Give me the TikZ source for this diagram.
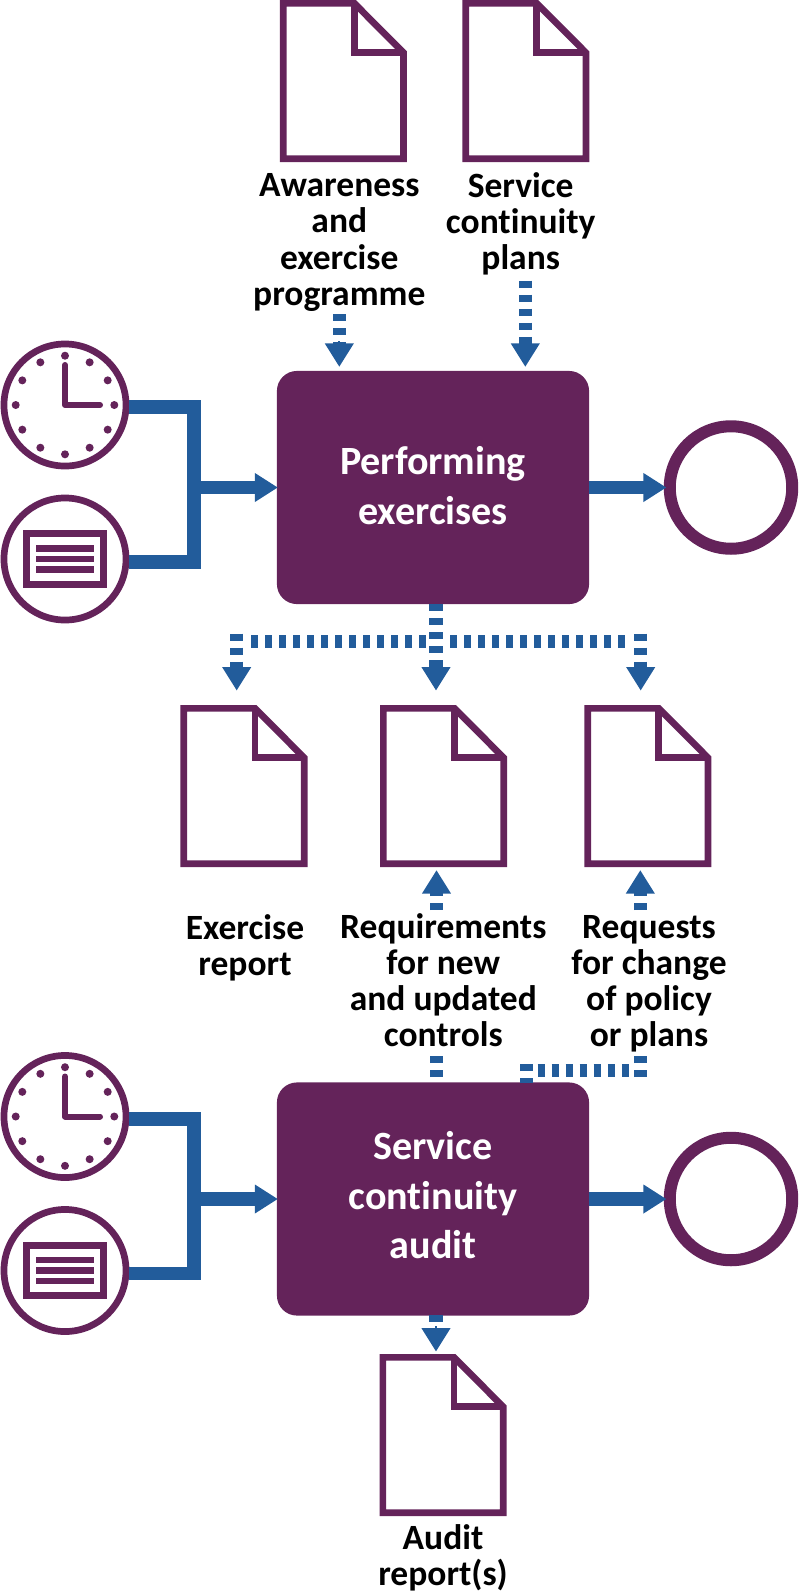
\documentclass[tikz,border=0pt]{standalone}
\usepackage{fontspec}
\usepackage{xcolor}
\setmainfont{Carlito}[Ligatures=NoCommon]
\usetikzlibrary{arrows.meta}

\definecolor{stepPurple}{HTML}{64235A}
\definecolor{flowBlue}{HTML}{225C9B}

\tikzset{
  docshape/.style={inner sep=0pt,outer sep=0pt,minimum width=1.266cm,minimum height=1.62cm},
  docline/.style={draw=stepPurple,line width=0.067cm,line join=miter},
  iconring/.style={circle,draw=stepPurple,fill=white,line width=0.067cm,minimum size=1.22cm,inner sep=0pt},
  endring/.style={circle,draw=stepPurple,fill=white,line width=0.12cm,minimum size=1.224cm,inner sep=0pt},
  stepbox/.style={rectangle,fill=stepPurple,rounded corners=0.2cm,minimum width=3.12cm,minimum height=2.33cm,
    inner sep=0pt,outer sep=0pt,align=center,text=white,font=\bfseries\fontsize{11.4}{14}\selectfont},
  doclabel/.style={inner sep=0pt,align=center,text=black,font=\bfseries\fontsize{10.1}{10.25}\selectfont},
  flowline/.style={draw=flowBlue,line width=0.134cm,line join=miter},
  flowarrow/.style={flowline,-{Triangle[length=0.23cm,width=0.273cm]}},
  dashline/.style={draw=flowBlue,line width=0.135cm,dash pattern=on 0.07cm off 0.07cm},
  dashflow/.style={dashline,-{Rectangle[length=0.02cm,width=0pt]Triangle[length=0.235cm,width=0.273cm]}},
}

% document sheet with folded corner
\newcommand{\docicon}[3]{
  \begin{scope}[shift={(#2,#3)}]
    \node[docshape] (#1) at (0,0) {};
    \draw[docline] (-60.15,-77.65)--(11,-77.65)--(60.15,-28.3)--(60.15,77.65)--(-60.15,77.65)--cycle;
    \draw[docline] (11,-77.65)--(11,-28.3)--(60.15,-28.3);
  \end{scope}
}

% clock face
\newcommand{\clockicon}[3]{
  \begin{scope}[shift={(#2,#3)}]
    \node[iconring] (#1) at (0,0) {};
    \foreach \a in {0,30,...,330} \fill[stepPurple] (\a:49.3) circle (4);
    \draw[stepPurple,line width=0.06cm,line cap=round,line join=round] (0,-40)--(0,0)--(35,0);
  \end{scope}
}

% form with three text lines
\newcommand{\formicon}[3]{
  \begin{scope}[shift={(#2,#3)}]
    \node[iconring] (#1) at (0,0) {};
    \draw[stepPurple,line width=0.067cm] (-38.5,-25.3) rectangle (38.5,25.3);
    \foreach \t in {-10.5,0,10.5} \fill[stepPurple] (-29,\t-3.3) rectangle (29,\t+3.3);
  \end{scope}
}

\begin{document}
\begin{tikzpicture}[x=0.01cm,y=-0.01cm]
\useasboundingbox (0,0) rectangle (799,1596);

% top documents
\docicon{docAware}{343.4}{81}
\docicon{docPlans}{525.8}{81}
\node[doclabel] (labAware) at (339.3,242.5) {Awareness\\and\\exercise\\programme};
\node[doclabel] (labPlans) at (520.7,224) {Service\\continuity\\plans};

% first process
\node[stepbox] (boxA) at (433,487.5) {Performing\\exercises\rule[-0.04cm]{0pt}{0pt}};
\clockicon{clockA}{65}{405}
\formicon{formA}{65}{559}
\node[endring] (endA) at (731,487.5) {};

% middle documents
\docicon{docReport}{244}{786}
\docicon{docReq}{443.5}{786}
\docicon{docChange}{647.8}{786}
\node[doclabel] (labReport) at (245,948) {Exercise\\report};
\node[doclabel] (labReq) at (443.3,980) {Requirements\\for new\\and updated\\controls};
\node[doclabel] (labChange) at (649,984) {Requests\\for change\\of policy\\or plans};

% second process
\node[stepbox] (boxB) at (433,1199) {Service\\continuity\\audit\rule[-0.08cm]{0pt}{0pt}};
\clockicon{clockB}{65}{1116.5}
\formicon{formB}{65}{1270.5}
\node[endring] (endB) at (731,1199) {};

% bottom document
\docicon{docAudit}{443}{1435}
\node[doclabel] (labAudit) at (443,1558) {Audit\\report(s)};

% junction points
\coordinate (topA) at (194,407);
\coordinate (botA) at (194,562);
\coordinate (joinA) at (194,487.5);
\coordinate (topB) at (194,1119);
\coordinate (botB) at (194,1273.7);
\coordinate (joinB) at (194,1199);
\coordinate (inAware) at (339.3,314);
\coordinate (inPlans) at (525.3,280.7);
\coordinate (outA) at (436,604);
\coordinate (midL) at (426,641.5);
\coordinate (endL) at (250,641.5);
\coordinate (dropL) at (236.7,633.7);
\coordinate (midR) at (450,641.5);
\coordinate (endR) at (626,641.5);
\coordinate (dropR) at (640.7,633.7);
\coordinate (upReq) at (436.5,910);
\coordinate (outReq) at (436.5,1077);
\coordinate (stopReq) at (436.5,1056);
\coordinate (upChange) at (640.3,910);
\coordinate (outChange) at (640.3,1077);
\coordinate (stopChange) at (640.3,1056);
\coordinate (outB) at (526.7,1082.7);
\coordinate (turnB) at (526.7,1064);
\coordinate (runL) at (537.7,1070.3);
\coordinate (runR) at (630,1070.3);
\coordinate (outAudit) at (436,1315);

% inputs to the first process
\draw[flowline] (clockA.east |- topA)--(topA)--(botA)--(formA.east |- botA);
\draw[flowarrow,shorten >=-0.01cm] (joinA)--(boxA.west);
\draw[flowarrow,shorten >=-0.027cm] (boxA.east)--(endA.west);
\draw[dashflow,shorten >=0.04cm] (inAware)--(inAware |- boxA.north);
\draw[dashflow,shorten >=0.04cm] (inPlans)--(inPlans |- boxA.north);

% outputs of the first process
\draw[dashflow,shorten >=0.143cm] (outA)--(outA |- docReq.north);
\draw[dashline] (midL)--(endL);
\draw[dashline] (midR)--(endR);
\draw[dashflow,shorten >=0.143cm] (dropL)--(dropL |- docReport.north);
\draw[dashflow,shorten >=0.143cm] (dropR)--(dropR |- docChange.north);

% second process
\draw[flowline] (clockB.east |- topB)--(topB)--(botB)--(formB.east |- botB);
\draw[flowarrow,shorten >=-0.01cm] (joinB)--(boxB.west);
\draw[flowarrow,shorten >=-0.027cm] (boxB.east)--(endB.west);

% feedback to the middle documents
\draw[dashline] (outReq)--(stopReq);
\draw[dashflow,shorten >=0.03cm] (upReq)--(upReq |- docReq.south);
\draw[dashline,dash phase=0.023cm] (outB)--(turnB);
\draw[dashline] (runL)--(runR);
\draw[dashline] (outChange)--(stopChange);
\draw[dashflow,shorten >=0.03cm] (upChange)--(upChange |- docChange.south);

% audit output
\draw[dashflow,shorten >=0.023cm] (outAudit)--(outAudit |- docAudit.north);
\end{tikzpicture}
\end{document}
